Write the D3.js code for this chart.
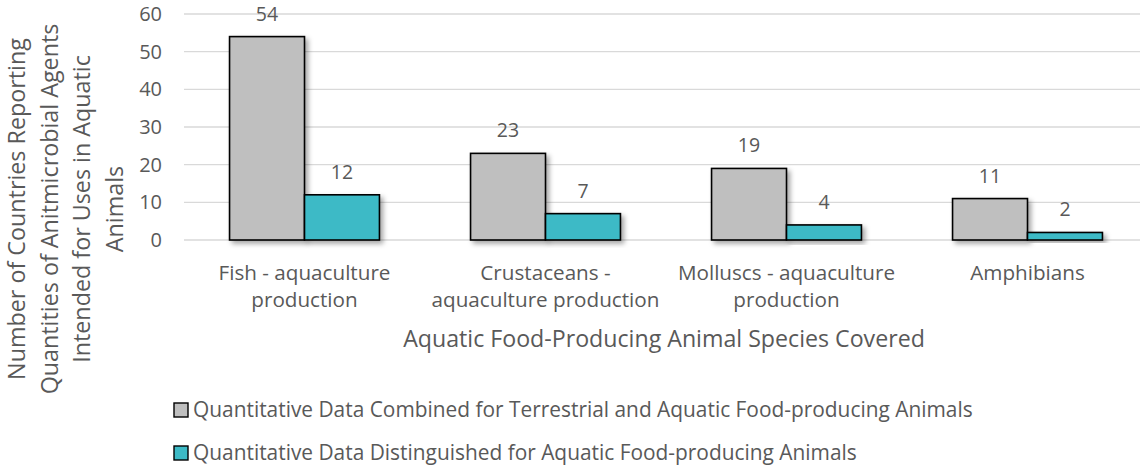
<!DOCTYPE html>
<html>
<head>
<meta charset="utf-8">
<script src="https://cdn.jsdelivr.net/npm/d3@7"></script>
<style>
  html, body { margin: 0; padding: 0; background: #fff; }
  svg { display: block; }
  text { font-family: "Open Sans", sans-serif; fill: #595959; }
</style>
</head>
<body>
<svg id="chart" width="1148" height="468"></svg>
<script>
const categories = [
  ["Fish - aquaculture", "production"],
  ["Crustaceans -", "aquaculture production"],
  ["Molluscs - aquaculture", "production"],
  ["Amphibians"]
];
const categoryKeys = ["Fish", "Crustaceans", "Molluscs", "Amphibians"];
const seriesNames = [
  "Quantitative Data Combined for Terrestrial and Aquatic Food-producing Animals",
  "Quantitative Data Distinguished for Aquatic Food-producing Animals"
];
const combinedValues = [54, 23, 19, 11];
const distinguishedValues = [12, 7, 4, 2];
const yTicks = [0, 10, 20, 30, 40, 50, 60];
const yTitleLines = [
  "Number of Countries Reporting",
  "Quantities of Anitmicrobial Agents",
  "Intended for Uses in Aquatic",
  "Animals"
];
const xTitle = "Aquatic Food-Producing Animal Species Covered";
const colors = ["#BFBFBF", "#3DBAC6"];

const svg = d3.select("#chart");

// scale a text element's font so that its width equals target
function fitSize(sel, target) {
  const s0 = 20;
  sel.style("font-size", s0 + "px");
  const w = sel.node().getComputedTextLength();
  return s0 * target / w;
}

const defs = svg.append("defs");
const f = defs.append("filter").attr("id", "shadow")
  .attr("x", "-20%").attr("y", "-20%").attr("width", "150%").attr("height", "150%");
f.append("feDropShadow").attr("dx", 3).attr("dy", 3).attr("stdDeviation", 2.5)
  .attr("flood-color", "#000").attr("flood-opacity", 0.35);

const x0 = d3.scaleBand().domain(categoryKeys).range([184, 1148])
  .paddingInner(0.378).paddingOuter(0.189);
const x1 = d3.scaleBand().domain([0, 1]).range([0, x0.bandwidth()]);
const y = d3.scaleLinear().domain([0, 60]).range([240, 14]);

// grid
svg.append("g").selectAll("line").data(yTicks).join("line")
  .attr("x1", 184).attr("x2", 1140)
  .attr("y1", d => y(d)).attr("y2", d => y(d))
  .attr("stroke", "#D9D9D9").attr("stroke-width", 1.3);

// y axis labels
const yAxis = d3.axisLeft(y).tickValues(yTicks).tickSize(0).tickPadding(0);
const gy = svg.append("g").attr("transform", "translate(162,0)").call(yAxis);
gy.select(".domain").remove();
gy.selectAll("text").style("font-size", "20px").attr("fill", "#595959")
  .style("font-family", "'Open Sans', sans-serif");

// bars
const groups = svg.append("g").selectAll("g").data(categoryKeys).join("g")
  .attr("transform", d => `translate(${x0(d)},0)`);

const seriesVals = [combinedValues, distinguishedValues];
groups.each(function(k, i) {
  const g = d3.select(this);
  [0, 1].forEach(s => {
    const v = seriesVals[s][i];
    g.append("rect")
      .attr("x", x1(s)).attr("y", y(v))
      .attr("width", x1.bandwidth()).attr("height", y(0) - y(v))
      .attr("fill", colors[s]).attr("stroke", "#000").attr("stroke-width", 1.6)
      .attr("filter", "url(#shadow)");
  });
});
groups.each(function(k, i) {
  const g = d3.select(this);
  [0, 1].forEach(s => {
    const v = seriesVals[s][i];
    g.append("text")
      .attr("x", x1(s) + x1.bandwidth() / 2).attr("y", y(v) - 16)
      .attr("text-anchor", "middle").style("font-size", "19.5px")
      .text(v);
  });
});

// x axis labels
const gx = svg.append("g");
const probe = gx.append("text").text(categories[1][1]);
const catSize = fitSize(probe, 228);
probe.remove();
categoryKeys.forEach((k, i) => {
  const cx = x0(k) + x0.bandwidth() / 2;
  const t = gx.append("text").attr("text-anchor", "middle")
    .attr("x", cx).attr("y", 280)
    .style("font-size", catSize + "px");
  categories[i].forEach((line, j) => {
    t.append("tspan").attr("x", cx).attr("dy", j === 0 ? 0 : 26.5).text(line);
  });
});

// x title
const xt = svg.append("text").attr("text-anchor", "middle")
  .attr("x", 664).attr("y", 347).text(xTitle);
xt.style("font-size", fitSize(xt, 522) + "px");

// y title
const yt = svg.append("text").attr("text-anchor", "middle")
  .attr("transform", "translate(0,209) rotate(-90)");
const yprobe = svg.append("text").text(yTitleLines[1]);
const ySize = fitSize(yprobe, 371);
yprobe.remove();
yt.style("font-size", ySize + "px");
yTitleLines.forEach((line, j) => {
  yt.append("tspan").attr("x", 0).attr("y", 25 + j * 32.5).text(line);
});

// legend
const leg = svg.append("g");
const lprobe = svg.append("text").text(seriesNames[0]);
const legSize = fitSize(lprobe, 780);
lprobe.remove();
seriesNames.forEach((name, i) => {
  const base = 417 + i * 43;
  leg.append("rect").attr("x", 174).attr("y", base - 14).attr("width", 14).attr("height", 14)
    .attr("fill", colors[i]).attr("stroke", "#000").attr("stroke-width", 1.4);
  leg.append("text").attr("x", 193).attr("y", base).style("font-size", legSize + "px").text(name);
});
</script>
</body>
</html>
